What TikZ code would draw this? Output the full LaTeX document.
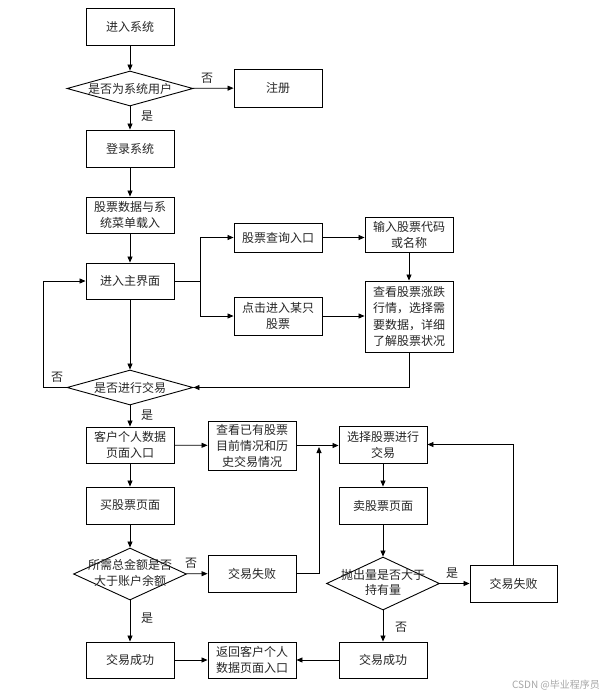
\documentclass[tikz,border=0pt]{standalone}
\usepackage{fontspec}
\setmainfont{Noto Sans CJK SC}
\usetikzlibrary{arrows.meta,shapes.geometric}
\tikzset{
  box/.style={draw=black, line width=0.9pt, fill=white, minimum width=88pt, inner sep=1pt, align=center, font=\fontsize{12}{16}\selectfont, text=black!85},
  dia/.style={draw=black, line width=0.9pt, diamond, inner sep=0pt},
  dtext/.style={align=center, inner sep=0pt, font=\fontsize{12}{15.5}\selectfont, text=black!85},
  lbl/.style={inner sep=0pt, font=\fontsize{12}{14}\selectfont, text=black!85},
  arr/.style={line width=0.8pt, -{Triangle[length=6pt,width=5pt]}},
  ln/.style={line width=0.8pt},
}
\begin{document}
\begin{tikzpicture}[x=1pt,y=-1pt]
\useasboundingbox (0,0) rectangle (612,696);
% left column
\node[box, minimum height=37pt] (enter) at (130,26.5) {进入系统};
\node[dia, minimum width=126pt, minimum height=35pt] (d1) at (130,88.5) {};
\node[dtext] (d1t) at (130,88.5) {是否为系统用户};
\node[box, minimum height=38pt] (reg) at (278,88) {注册};
\node[box, minimum height=37pt] (login) at (130,148.5) {登录系统};
\node[box, minimum height=36pt] (load) at (130,215) {股票数据与系\\统菜单载入};
\node[box, minimum height=36pt] (main) at (130,281) {进入主界面};
\node[box, minimum height=29pt] (query) at (278,237.5) {股票查询入口};
\node[box, minimum height=35pt] (input) at (409,234.5) {输入股票代码\\或名称};
\node[box, minimum height=38pt] (click) at (278,316) {点击进入某只\\股票};
\node[box, minimum height=71pt, font=\fontsize{12}{16.5}\selectfont] (view) at (409,316.5) {查看股票涨跌\\行情，选择需\\要数据，详细\\了解股票状况};
\node[dia, minimum width=126pt, minimum height=35pt] (d2) at (130,387.5) {};
\node[dtext] (d2t) at (130,387.5) {是否进行交易};
\node[box, minimum height=36pt] (cust) at (130,445) {客户个人数据\\页面入口};
\node[box, minimum height=49pt] (hist) at (252,445.5) {查看已有股票\\目前情况和历\\史交易情况};
\node[box, minimum height=37pt] (buy) at (130,505.5) {买股票页面};
\node[dia, minimum width=113pt, minimum height=52pt] (d3) at (130,574) {};
\node[dtext] (d3t) at (130,573) {所需总金额是否\\大于账户余额};
\node[box, minimum height=37pt] (fail1) at (252,573.5) {交易失败};
\node[box, minimum height=36pt] (succ1) at (130,660) {交易成功};
\node[box, minimum height=36pt] (back) at (252,660) {返回客户个人\\数据页面入口};
\node[box, minimum height=37pt] (select) at (383,444.5) {选择股票进行\\交易};
\node[box, minimum height=37pt] (sell) at (383,505.5) {卖股票页面};
\node[dia, minimum width=113pt, minimum height=53pt] (d4) at (383,583.5) {};
\node[dtext] (d4t) at (383,582.5) {抛出量是否大于\\持有量};
\node[box, minimum height=37pt, minimum width=87pt] (fail2) at (513.5,583.5) {交易失败};
\node[box, minimum height=36pt] (succ2) at (383,660) {交易成功};
% labels
\node[lbl] (l1) at (207,78) {否};
\node[lbl] (l2) at (147,116) {是};
\node[lbl] (l3) at (57,377) {否};
\node[lbl] (l4) at (147,415) {是};
\node[lbl] (l5) at (191,563) {否};
\node[lbl] (l6) at (147,618) {是};
\node[lbl] (l7) at (452,573) {是};
\node[lbl] (l8) at (401,627) {否};
\node[inner sep=0pt, font=\fontsize{10}{12}\selectfont, text=black!35] (wm) at (556,685) {CSDN @毕业程序员};
% coordinates
\coordinate (bj) at (200,281);
\coordinate (loopL) at (43,387.5);
\coordinate (up1) at (319,447);
% connectors
\draw[arr] (enter) -- (d1);
\draw[arr] (d1) -- (reg);
\draw[arr] (d1) -- (login);
\draw[arr] (login) -- (load);
\draw[arr] (load) -- (main);
\draw[ln] (main.east) -- (bj);
\draw[arr] (bj) |- (query.west);
\draw[arr] (bj) |- (click.west);
\draw[arr] (query.east) -- (query.east -| input.west);
\draw[arr] (input) -- (view);
\draw[arr] (click.east) -- (click.east -| view.west);
\draw[arr] (view.south) |- (d2.east);
\draw[arr] (main) -- (d2);
\draw[arr] (d2.west) -- (loopL) |- (main.west);
\draw[arr] (d2) -- (cust);
\draw[arr] (cust) -- (hist);
\draw[arr] (hist.east) -- (hist.east -| select.west);
\draw[arr] (cust) -- (buy);
\draw[arr] (buy) -- (d3);
\draw[arr] (d3) -- (fail1);
\draw[arr] (fail1.east) -| (up1);
\draw[arr] (d3) -- (succ1);
\draw[arr] (succ1) -- (back);
\draw[arr] (succ2) -- (back);
\draw[arr] (select) -- (sell);
\draw[arr] (sell) -- (d4);
\draw[arr] (d4.east) -- (d4.east -| fail2.west);
\draw[arr] (fail2.north) |- (select.east);
\draw[arr] (d4) -- (succ2);
\end{tikzpicture}
\end{document}
